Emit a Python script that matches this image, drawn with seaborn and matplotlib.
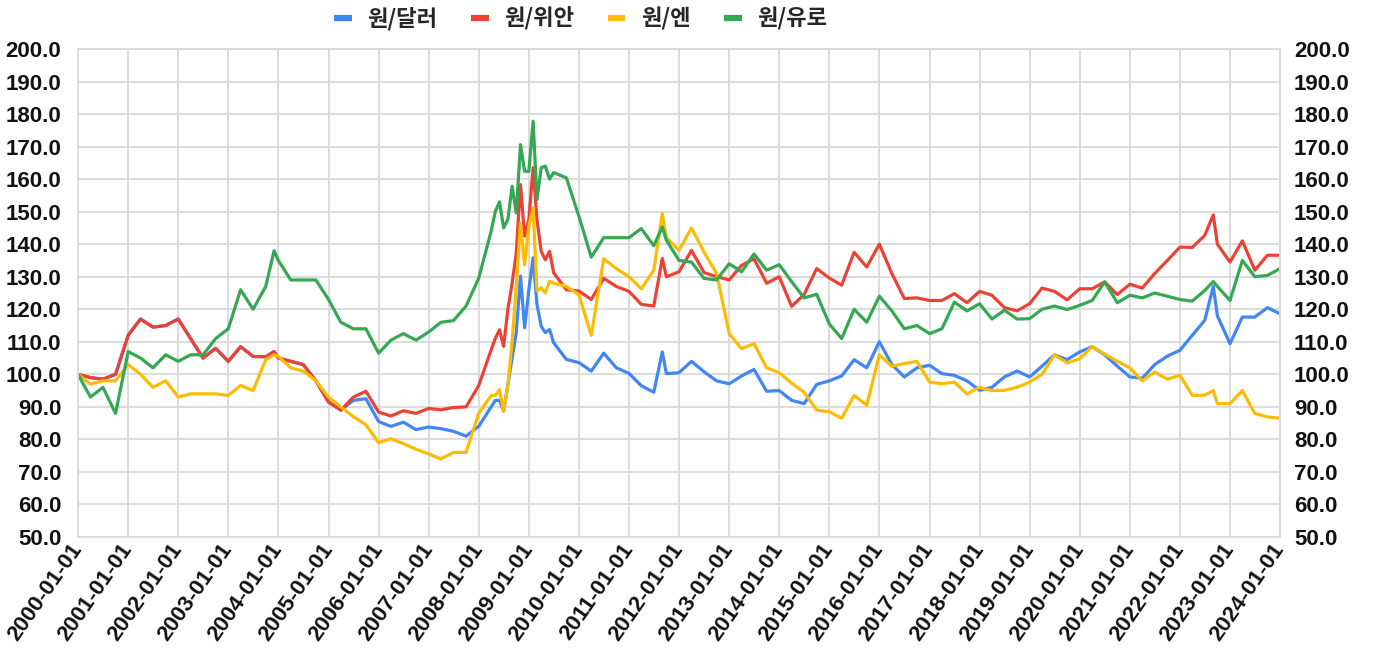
import matplotlib
matplotlib.use("Agg")
import matplotlib.pyplot as plt
import matplotlib.dates as mdates
import pandas as pd
import seaborn as sns

# month samples (quarterly, monthly around the 2008 crisis)
dates = [
    "2000-01", "2000-04", "2000-07", "2000-10",
    "2001-01", "2001-04", "2001-07", "2001-10",
    "2002-01", "2002-04", "2002-07", "2002-10",
    "2003-01", "2003-04", "2003-07", "2003-10", "2003-12",
    "2004-01", "2004-04", "2004-07", "2004-10",
    "2005-01", "2005-04", "2005-07", "2005-10",
    "2006-01", "2006-04", "2006-07", "2006-10",
    "2007-01", "2007-04", "2007-07", "2007-10",
    "2008-01", "2008-04", "2008-05", "2008-06", "2008-07", "2008-08",
    "2008-09", "2008-10", "2008-11", "2008-12",
    "2009-01", "2009-02", "2009-03", "2009-04", "2009-05", "2009-06",
    "2009-07", "2009-10",
    "2010-01", "2010-04", "2010-07", "2010-10",
    "2011-01", "2011-04", "2011-07", "2011-09", "2011-10",
    "2012-01", "2012-04", "2012-07", "2012-10",
    "2013-01", "2013-04", "2013-07", "2013-10",
    "2014-01", "2014-04", "2014-07", "2014-10",
    "2015-01", "2015-04", "2015-07", "2015-10",
    "2016-01", "2016-04", "2016-07", "2016-10",
    "2017-01", "2017-04", "2017-07", "2017-10",
    "2018-01", "2018-04", "2018-07", "2018-10",
    "2019-01", "2019-04", "2019-07", "2019-10",
    "2020-01", "2020-04", "2020-07", "2020-10",
    "2021-01", "2021-04", "2021-07", "2021-10",
    "2022-01", "2022-04", "2022-07", "2022-09", "2022-10",
    "2023-01", "2023-04", "2023-07", "2023-10",
    "2024-01",
]

usd = [
    100, 99, 98.5, 100,
    112, 117, 114.5, 115,
    117, 111, 105, 108,
    104, 108.5, 105.5, 105.4, 107,
    105, 104, 103, 98,
    91.5, 89, 92, 92.5,
    85.5, 84, 85.3, 83,
    83.8, 83.3, 82.5, 81,
    84, 90, 92, 92, 88.7, 96.9, 105, 112.8, 130.2, 114.3,
    126, 135.8, 121.5, 114.8, 112.8, 113.8, 109.7, 104.6,
    103.6, 101, 106.5, 102,
    100.3, 96.5, 94.5, 106.9, 100.2,
    100.5, 104, 100.8, 98,
    97.1, 99.5, 101.5, 94.8,
    95, 92, 91, 96.9,
    98, 99.5, 104.5, 102,
    110, 103, 99.2, 102,
    102.8, 100.2, 99.7, 98,
    95.1, 96, 99.2, 101,
    99.2, 102.5, 106, 104.5,
    106.9, 108.5, 106, 102.5,
    99.2, 98.8, 103, 105.6,
    107.4, 112, 116.6, 127, 118,
    109.4, 117.6, 117.6, 120.5,
    118.6,
]

cny = [
    100, 99, 98.5, 100,
    112, 117, 114.5, 115,
    117, 111, 105, 108,
    104, 108.5, 105.5, 105.4, 107,
    105, 104, 103, 98,
    91.5, 89, 93, 94.8,
    88.4, 87.2, 88.8, 88,
    89.5, 89.1, 89.8, 90,
    96.5, 107.5, 111, 113.7, 108.6, 120, 128, 137.3, 158.3, 142.5,
    147.6, 163.5, 147.6, 137.8, 135.2, 137.8, 131.2, 126,
    125.6, 123, 129.5, 127,
    125.5, 121.5, 121, 135.6, 130,
    131.5, 138.1, 131.3, 130,
    129, 133.5, 135.5, 128,
    130, 120.9, 124.5, 132.5,
    129.6, 127.4, 137.5, 133,
    140, 131, 123.3, 123.5,
    122.7, 122.7, 124.8, 122,
    125.5, 124.3, 120.5, 119.5,
    121.7, 126.5, 125.5, 122.9,
    126.3, 126.3, 128.4, 124.5,
    127.7, 126.5, 131, 135,
    139.1, 139, 142.7, 149, 140,
    134.5, 141, 132, 136.6,
    136.6,
]

jpy = [
    100, 97, 98, 98,
    103, 100, 96, 98,
    93, 94, 94, 94,
    93.5, 96.6, 95, 104.5, 106,
    105.5, 102, 101, 98,
    93, 90, 87, 84.5,
    79, 80.2, 78.7, 77,
    75.5, 74, 76, 76,
    88, 93.5, 93.5, 95.3, 88.7, 96.4, 110, 127, 146.5, 133.7,
    145.5, 151.2, 125.6, 126.6, 125, 128.6, 128, 127,
    124.5, 112, 135.5, 132.5,
    130, 126.3, 132, 149.4, 142,
    138.1, 145, 137.6, 131,
    112.5, 107.9, 109.4, 102,
    100.5, 97.3, 94.5, 89,
    88.5, 86.5, 93.5, 90.5,
    106, 102.5, 103.3, 104,
    97.6, 97.1, 97.6, 94,
    96, 95, 95.1, 96,
    97.6, 100, 106, 103.5,
    104.8, 108.5, 106.2, 104,
    102, 98, 100.7, 98.5,
    99.7, 93.5, 93.6, 95, 91,
    91, 95, 88, 86.9,
    86.5,
]

eur = [
    100, 93, 96, 88,
    107, 105, 102, 106,
    104, 106, 106, 111,
    114, 126, 120, 127, 138,
    135, 129, 129, 129,
    123, 116, 114, 114,
    106.5, 110.5, 112.5, 110.5,
    113, 116, 116.5, 121,
    129.5, 144, 150, 153, 145, 147.6, 157.8, 149.6, 170.6, 162.4,
    162.4, 177.8, 153.7, 163.5, 164, 160, 162, 160.4,
    148.6, 136, 142, 142,
    142, 144.8, 139.5, 145.3, 141.2,
    135, 134.5, 129.5, 129,
    134, 131.5, 137, 132,
    133.7, 128.5, 123.5, 124.6,
    115.5, 111, 120, 116,
    124, 119.5, 114, 115,
    112.5, 114, 122.2, 119.5,
    121.7, 117, 119.7, 117,
    117.1, 120, 121, 119.9,
    121.2, 122.7, 128.4, 122,
    124.3, 123.5, 125, 124,
    123, 122.5, 125.8, 128.5, 127,
    122.7, 135, 130, 130.4,
    132.5,
]

labels = ["원/달러", "원/위안", "원/엔", "원/유로"]
colors = ["#4285F4", "#EA4335", "#FBBC04", "#34A853"]

df = pd.DataFrame({"date": pd.to_datetime(dates),
                   labels[0]: usd, labels[1]: cny, labels[2]: jpy, labels[3]: eur})
long = df.melt(id_vars="date", var_name="pair", value_name="value")

sns.set_style("white")
plt.rcParams['font.family'] = ['Liberation Sans', 'Noto Sans CJK KR', 'DejaVu Sans']

fig = plt.figure(figsize=(13.73, 6.70), dpi=100)
ax = fig.add_axes([0.0568, 0.1985, 0.8755, 0.7284])

sns.lineplot(data=long, x="date", y="value", hue="pair", hue_order=labels,
             palette=colors, linewidth=2.3, ax=ax)

handles, names = ax.get_legend_handles_labels()
ax.get_legend().remove()

yticks = list(range(50, 201, 10))
ax.set_ylim(50, 200)
ax.set_xlim(pd.Timestamp("2000-01-01"), pd.Timestamp("2024-01-01"))
ax.set_yticks(yticks)
ax.set_yticklabels([f"{v:.1f}" for v in yticks])
ax.xaxis.set_major_locator(mdates.YearLocator())
ax.xaxis.set_major_formatter(mdates.DateFormatter("%Y-%m-%d"))
ax.grid(True, color="#d9d9d9", linewidth=1.3)
ax.set_axisbelow(True)
ax.set_xlabel("")
ax.set_ylabel("")
for s in ax.spines.values():
    s.set_color("#d9d9d9")
    s.set_linewidth(1.3)

ax.tick_params(axis="both", length=0, labelsize=16, labelcolor="#111111")
ax.tick_params(axis="y", pad=12)
ax.tick_params(axis="x", pad=6)
for t in ax.get_xticklabels():
    t.set_rotation(55)
    t.set_ha("right")
    t.set_va("center")
    t.set_rotation_mode("anchor")
    t.set_fontweight("bold")
for t in ax.get_yticklabels():
    t.set_fontweight("bold")

ax2 = ax.twinx()
ax2.set_ylim(50, 200)
ax2.set_yticks(yticks)
ax2.set_yticklabels([f"{v:.1f}" for v in yticks])
ax2.tick_params(axis="y", length=0, labelsize=16, labelcolor="#111111", pad=10)
for t in ax2.get_yticklabels():
    t.set_fontweight("bold")
for s in ax2.spines.values():
    s.set_visible(False)

leg = fig.legend(handles, names, loc="center", bbox_to_anchor=(0.423, 0.972),
                 ncol=4, frameon=False, handlelength=0.8, handletextpad=0.7,
                 columnspacing=1.5, prop={"family": "Noto Sans CJK KR",
                                          "weight": "bold", "size": 16})
for h in leg.legend_handles:
    h.set_linewidth(4.5)
    h.set_solid_capstyle("butt")

fig.savefig("out.png", dpi=100)
